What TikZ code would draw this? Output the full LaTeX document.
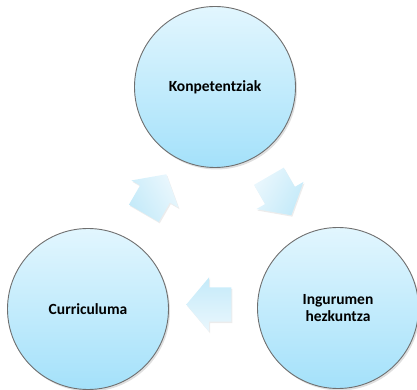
\documentclass[tikz,border=0pt]{standalone}
\usepackage{fontspec}
\setmainfont{Carlito}
\usetikzlibrary{calc,shapes.arrows,shadows}
\definecolor{bubbletop}{HTML}{E2F6FE}
\definecolor{bubblebot}{HTML}{A4E1FA}
\definecolor{arrowtop}{HTML}{EAF7FD}
\definecolor{arrowbot}{HTML}{C4EAF9}
\definecolor{rim}{HTML}{6F6F6F}
\begin{document}
\begin{tikzpicture}[x=1pt, y=1pt,
    bubble/.style={circle, draw=rim, line width=0.9pt, minimum size=161pt, inner sep=0pt,
        top color=bubbletop, bottom color=bubblebot,
        drop shadow={opacity=0.25, shadow xshift=1.5pt, shadow yshift=-2pt},
        font=\fontsize{15.5}{16.5}\selectfont\bfseries, align=center},
    turn/.style={single arrow, draw=none, minimum height=45pt, minimum width=54pt,
        single arrow head extend=10pt, single arrow tip angle=100,
        inner xsep=0pt, inner ysep=17pt,
        top color=arrowtop, bottom color=arrowbot,
        drop shadow={opacity=0.15, shadow xshift=1pt, shadow yshift=-1.5pt}}]
    \useasboundingbox (0, 0) rectangle (417, 390);
    \node[bubble] (komp) at (215, 303) {Konpetentziak};
    \node[bubble] (ingu) at (338, 82) {Ingurumen\\hezkuntza};
    \node[bubble] (curr) at (88, 81) {Curriculuma};
    \node[turn, rotate=-60, shading angle=60] (g1) at ($(komp)!0.5!(ingu) + (0, 8)$) {};
    \node[turn, rotate=180, shading angle=180] (g2) at ($(ingu)!0.5!(curr) + (3, 4)$) {};
    \node[turn, rotate=60, shading angle=-60] (g3) at ($(curr)!0.5!(komp) + (0, -2)$) {};
\end{tikzpicture}
\end{document}
